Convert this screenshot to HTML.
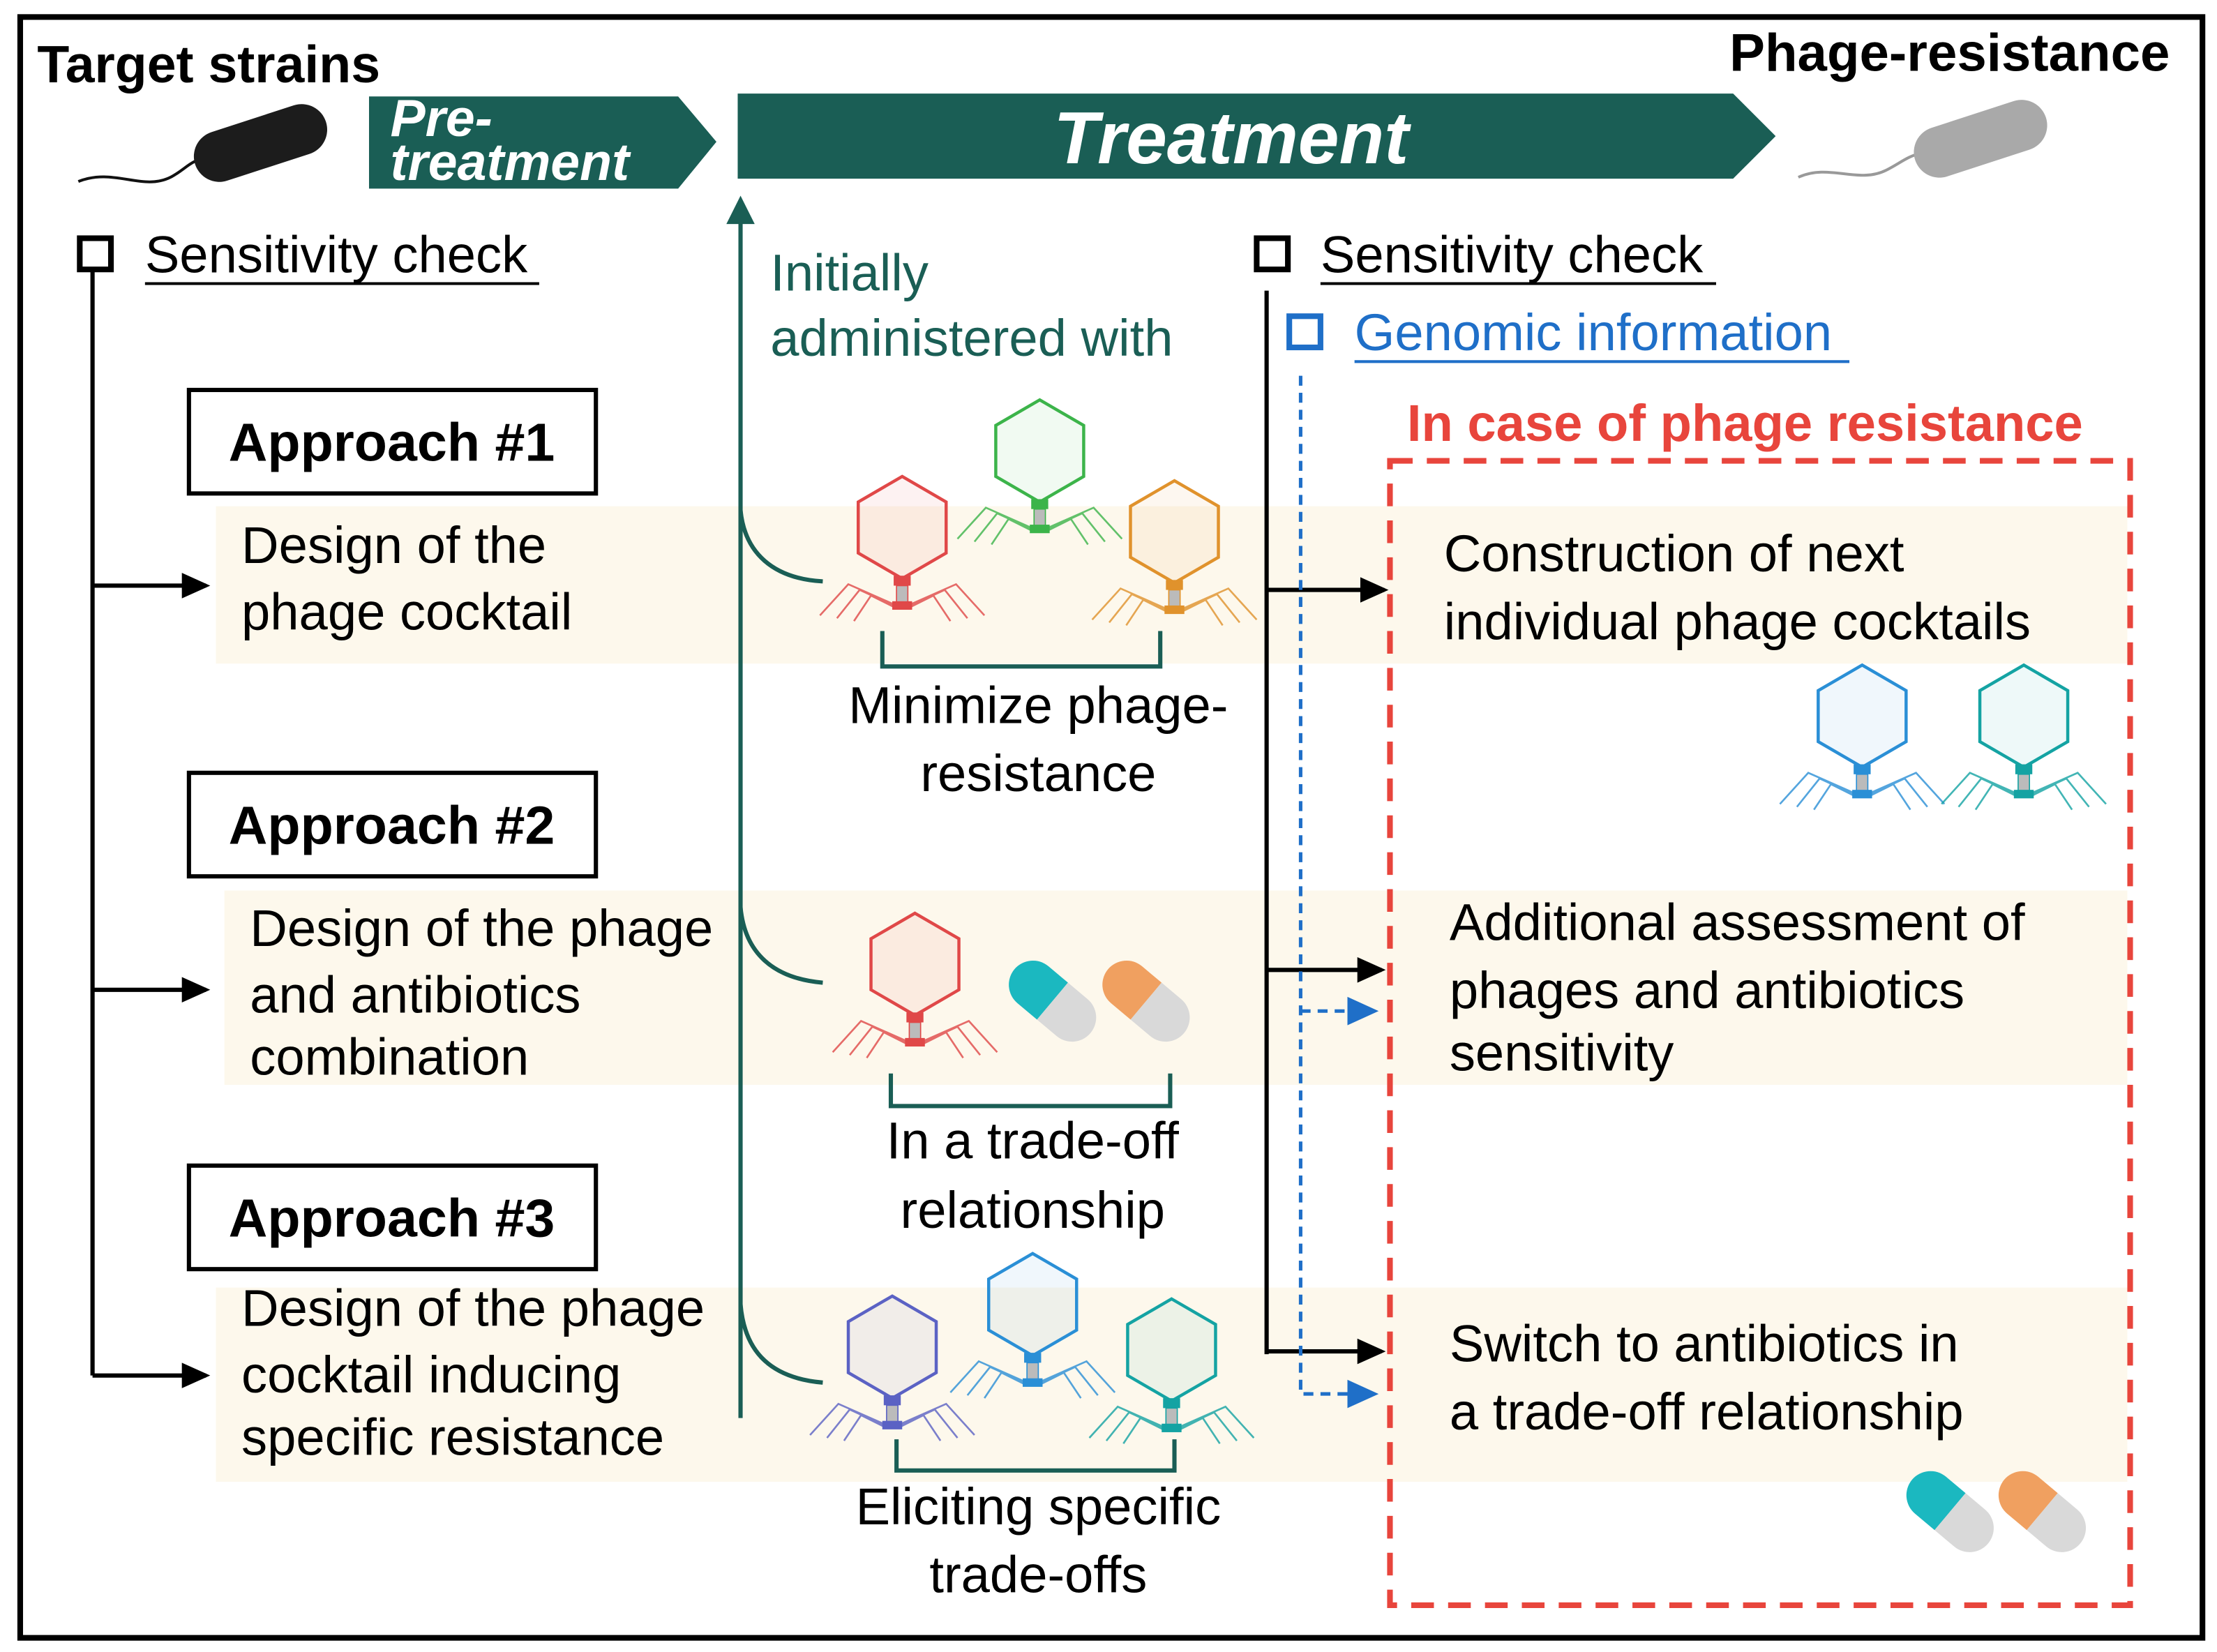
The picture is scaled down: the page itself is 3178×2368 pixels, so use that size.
<!DOCTYPE html>
<html><head><meta charset="utf-8"><style>html,body{margin:0;padding:0;background:#fff}svg{display:block}text{font-family:"Liberation Sans",Arial,sans-serif}</style></head>
<body>
<svg width="3178" height="2368" viewBox="0 0 1563 1165" xmlns="http://www.w3.org/2000/svg">
<defs>
<symbol id="ph" overflow="visible">
<polygon points="0,-36 31,-18 31,18 0,36 -31,18 -31,-18" fill="currentColor" fill-opacity="0.07" stroke="currentColor" stroke-width="2.2"/>
<rect x="-6" y="34" width="12" height="7" fill="currentColor"/>
<rect x="-4" y="41" width="8" height="12" fill="#bbb" stroke="currentColor" stroke-width="0.8"/>
<rect x="-7" y="52" width="14" height="6" fill="currentColor"/>
<g stroke="currentColor" stroke-width="1.3" fill="none" opacity="0.8">
<polyline points="-4,55 -38,40 -58,62"/><polyline points="-4,56 -30,44 -46,64"/><polyline points="-4,57 -22,48 -34,66"/>
<polyline points="4,55 38,40 58,62"/><polyline points="4,56 30,44 46,64"/><polyline points="4,57 22,48 34,66"/>
</g>
</symbol>
<marker id="ak" markerWidth="20" markerHeight="20" refX="17" refY="10" orient="auto" markerUnits="userSpaceOnUse"><path d="M0,1 L20,10 L0,19z" fill="#000"/></marker>
</defs>
<rect x="14" y="12" width="1539" height="1143" fill="#fff" stroke="#000" stroke-width="4"/>
<rect x="152" y="357" width="1348" height="111" fill="#fdf8ec"/>
<rect x="158" y="628" width="1342" height="137" fill="#fdf8ec"/>
<rect x="152" y="908" width="1348" height="137" fill="#fdf8ec"/>
<text x="26" y="58" font-size="37" font-weight="bold">Target strains</text>
<text x="1530" y="50" font-size="37.5" font-weight="bold" text-anchor="end">Phage-resistance</text>
<path d="M55,128 C80,118 100,135 120,125 C130,120 135,112 145,112" fill="none" stroke="#111" stroke-width="2"/>
<rect x="135" y="83" width="97" height="36" rx="18" transform="rotate(-18 183 101)" fill="#1c1c1c"/>
<path d="M1268,125 C1290,115 1310,130 1330,120 C1340,115 1345,110 1355,108" fill="none" stroke="#999" stroke-width="2"/>
<rect x="1348" y="80" width="97" height="36" rx="18" transform="rotate(-18 1396 98)" fill="#a9a9a9"/>
<polygon points="260,68 478,68 505,100 478,133 260,133" fill="#1a5e55"/>
<text x="275" y="96" font-size="37" font-weight="bold" font-style="italic" fill="#fff">Pre-</text>
<text x="275" y="127" font-size="37" font-weight="bold" font-style="italic" fill="#fff">treatment</text>
<polygon points="520,66 1222,66 1252,96 1222,126 520,126" fill="#1a5e55"/>
<text x="868" y="115" font-size="52" font-weight="bold" font-style="italic" fill="#fff" text-anchor="middle">Treatment</text>
<rect x="56" y="168" width="22" height="22" fill="none" stroke="#000" stroke-width="4"/>
<text x="102" y="192" font-size="36.5">Sensitivity check</text>
<line x1="102" y1="200" x2="380" y2="200" stroke="#000" stroke-width="2"/>
<line x1="65" y1="190" x2="65" y2="970" stroke="#000" stroke-width="3"/>
<g stroke="#000" stroke-width="3" marker-end="url(#ak)">
<line x1="65" y1="413" x2="145" y2="413"/><line x1="65" y1="698" x2="145" y2="698"/><line x1="65" y1="970" x2="145" y2="970"/>
</g>
<g fill="#fff" stroke="#000" stroke-width="3"><rect x="133" y="275" width="287" height="73"/><rect x="133" y="545" width="287" height="73"/><rect x="133" y="822" width="287" height="73"/></g>
<g font-size="38" font-weight="bold" text-anchor="middle"><text x="276" y="325">Approach #1</text><text x="276" y="595">Approach #2</text><text x="276" y="872">Approach #3</text></g>
<g font-size="36.5">
<text x="170" y="397">Design of the</text><text x="170" y="444">phage cocktail</text>
<text x="176" y="667">Design of the phage</text><text x="176" y="714">and antibiotics</text><text x="176" y="758">combination</text>
<text x="170" y="935">Design of the phage</text><text x="170" y="982">cocktail inducing</text><text x="170" y="1026">specific resistance</text>
</g>
<g stroke="#1a5e55" stroke-width="3" fill="none">
<line x1="522" y1="1000" x2="522" y2="150"/>
<path d="M522,360 C525,390 545,408 580,410"/><path d="M522,640 C525,672 545,690 580,693"/><path d="M522,920 C525,955 545,972 580,975"/>
</g>
<path d="M512,158 L522,138 L532,158z" fill="#1a5e55"/>
<text x="543" y="205" font-size="36.5" fill="#1a5e55">Initially</text>
<text x="543" y="251" font-size="36.5" fill="#1a5e55">administered with</text>
<use href="#ph" x="636" y="372" color="#e04848"/>
<use href="#ph" x="733" y="318" color="#3cb44a"/>
<use href="#ph" x="828" y="375" color="#e0922c"/>
<use href="#ph" x="645" y="680" color="#e04848"/>
<use href="#ph" x="629" y="950" color="#5b62c4"/>
<use href="#ph" x="728" y="920" color="#2a8fd6"/>
<use href="#ph" x="826" y="952" color="#14a3a3"/>
<use href="#ph" x="1313" y="505" color="#2a8fd6"/>
<use href="#ph" x="1427" y="505" color="#14a3a3"/>
<g transform="translate(742,706) rotate(40)"><path d="M0,-17 h-18 a17,17 0 0 0 0,34 h18z" fill="#1bb8c0"/><path d="M0,-17 h18 a17,17 0 0 1 0,34 h-18z" fill="#d9d9d9"/></g>
<g transform="translate(808,706) rotate(40)"><path d="M0,-17 h-18 a17,17 0 0 0 0,34 h18z" fill="#f0a060"/><path d="M0,-17 h18 a17,17 0 0 1 0,34 h-18z" fill="#d9d9d9"/></g>
<g transform="translate(1375,1066) rotate(40)"><path d="M0,-17 h-18 a17,17 0 0 0 0,34 h18z" fill="#1bb8c0"/><path d="M0,-17 h18 a17,17 0 0 1 0,34 h-18z" fill="#d9d9d9"/></g>
<g transform="translate(1440,1066) rotate(40)"><path d="M0,-17 h-18 a17,17 0 0 0 0,34 h18z" fill="#f0a060"/><path d="M0,-17 h18 a17,17 0 0 1 0,34 h-18z" fill="#d9d9d9"/></g>
<g stroke="#1a5e55" stroke-width="3" fill="none">
<polyline points="622,445 622,470 818,470 818,445"/>
<polyline points="628,757 628,780 825,780 825,757"/>
<polyline points="632,1015 632,1037 828,1037 828,1015"/>
</g>
<g font-size="36.5" text-anchor="middle">
<text x="732" y="510">Minimize phage-</text><text x="732" y="558">resistance</text>
<text x="728" y="817">In a trade-off</text><text x="728" y="866">relationship</text>
<text x="732" y="1075">Eliciting specific</text><text x="732" y="1123">trade-offs</text>
</g>
<rect x="886" y="168" width="22" height="22" fill="none" stroke="#000" stroke-width="4"/>
<text x="931" y="192" font-size="36.5">Sensitivity check</text>
<line x1="931" y1="200" x2="1210" y2="200" stroke="#000" stroke-width="2"/>
<line x1="893" y1="205" x2="893" y2="955" stroke="#000" stroke-width="3"/>
<g stroke="#000" stroke-width="3" marker-end="url(#ak)">
<line x1="893" y1="416" x2="976" y2="416"/><line x1="893" y1="684" x2="974" y2="684"/><line x1="893" y1="953" x2="974" y2="953"/>
</g>
<rect x="909" y="223" width="22" height="22" fill="none" stroke="#1f6fc8" stroke-width="4"/>
<text x="955" y="247" font-size="36.5" fill="#1f6fc8">Genomic information</text>
<line x1="955" y1="255" x2="1304" y2="255" stroke="#1f6fc8" stroke-width="2"/>
<g stroke="#1f6fc8" stroke-width="2.5" stroke-dasharray="7,5" fill="none">
<polyline points="917,265 917,983 955,983"/><polyline points="917,713 955,713"/>
</g>
<path d="M950,703 L972,713 L950,723z" fill="#1f6fc8"/><path d="M950,973 L972,983 L950,993z" fill="#1f6fc8"/>
<text x="992" y="311" font-size="36.5" font-weight="bold" fill="#e8453c">In case of phage resistance</text>
<rect x="980" y="325" width="522" height="807" fill="none" stroke="#e8453c" stroke-width="4" stroke-dasharray="16,10"/>
<g font-size="36.5">
<text x="1018" y="403">Construction of next</text><text x="1018" y="451">individual phage cocktails</text>
<text x="1022" y="663">Additional assessment of</text><text x="1022" y="711">phages and antibiotics</text><text x="1022" y="755">sensitivity</text>
<text x="1022" y="960">Switch to antibiotics in</text><text x="1022" y="1008">a trade-off relationship</text>
</g>
</svg>
</body></html>
